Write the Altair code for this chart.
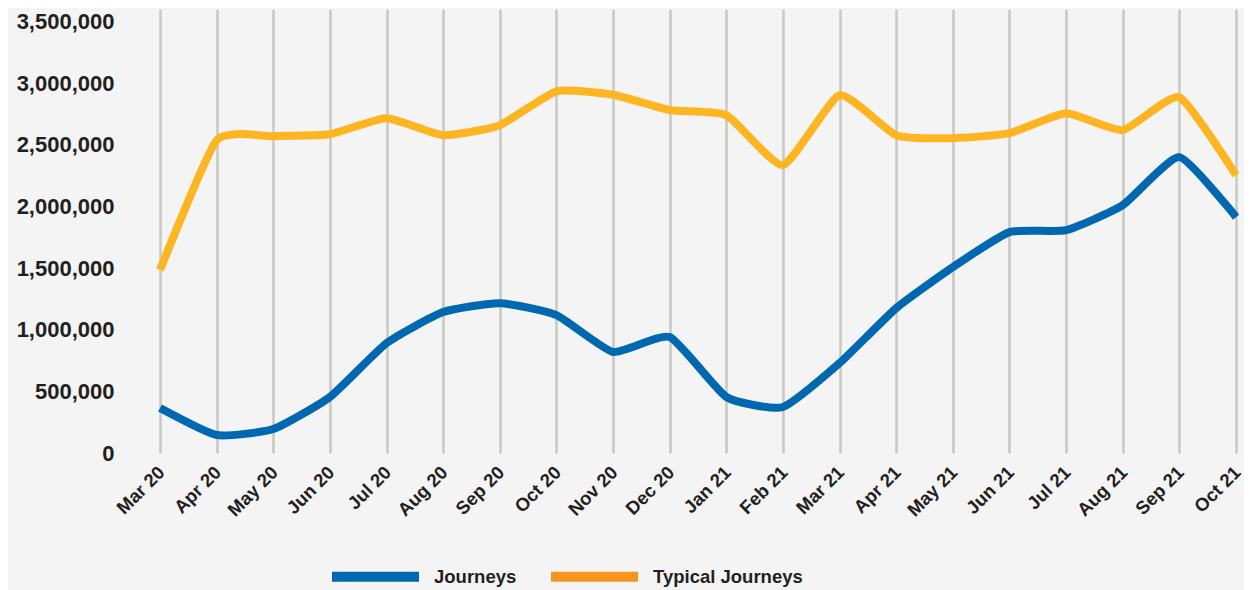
import altair as alt
import pandas as pd

months = ["Mar 20", "Apr 20", "May 20", "Jun 20", "Jul 20", "Aug 20", "Sep 20", "Oct 20",
          "Nov 20", "Dec 20", "Jan 21", "Feb 21", "Mar 21", "Apr 21", "May 21", "Jun 21",
          "Jul 21", "Aug 21", "Sep 21", "Oct 21"]
journeys = [365000, 146000, 194000, 454000, 891000, 1143000, 1215000, 1118000,
            819000, 940000, 454000, 373000, 729000, 1175000, 1507000, 1791000,
            1807000, 2010000, 2399000, 1912000]
typical = [1483000, 2536000, 2569000, 2585000, 2715000, 2577000, 2658000, 2933000,
           2905000, 2780000, 2739000, 2334000, 2901000, 2577000, 2553000, 2593000,
           2755000, 2618000, 2885000, 2253000]
series_names = ["Journeys", "Typical Journeys"]
line_colors = ["#0067B1", "#FDB522"]
legend_colors = ["#0067B1", "#F7941D"]
y_ticks = [0, 500000, 1000000, 1500000, 2000000, 2500000, 3000000, 3500000]

rows = []
for m, j, t in zip(months, journeys, typical):
    rows.append({"month": m, "series": series_names[0], "value": j})
    rows.append({"month": m, "series": series_names[1], "value": t})
df = pd.DataFrame(rows)

FONT = "Liberation Sans"
TXT = "#231F20"

x_enc = alt.X("month:O", sort=months, title=None,
              scale=alt.Scale(type="point", padding=0),
              axis=alt.Axis(labelAngle=-45, labelAlign="right", labelBaseline="middle",
                            labelPadding=16, labelOffset=1, labelFontSize=18.5,
                            labelFontWeight="bold",
                            labelColor=TXT, labelFont=FONT, domain=False, ticks=False,
                            grid=True, gridColor="#C8C8C4", gridWidth=2.5))
y_enc = alt.Y("value:Q", title=None,
              scale=alt.Scale(domain=[0, 3600000], nice=False),
              axis=alt.Axis(values=y_ticks, labelExpr="format(datum.value, ',')",
                            labelFontSize=22,
                            labelFontWeight="bold", labelColor=TXT, labelFont=FONT,
                            labelPadding=46, domain=False, ticks=False, grid=False))

lines = alt.Chart(df).mark_line(interpolate="cardinal", tension=0.5, strokeWidth=8).encode(
    x=x_enc, y=y_enc,
    stroke=alt.Stroke("series:N", legend=None,
                      scale=alt.Scale(domain=series_names, range=line_colors)),
)

legend_layer = alt.Chart(df).transform_filter("false").mark_line().encode(
    x=x_enc, y=y_enc,
    color=alt.Color("series:N", title=None,
                    scale=alt.Scale(domain=series_names, range=legend_colors),
                    legend=alt.Legend(orient="none", legendX=167, legendY=519,
                                      direction="horizontal", symbolType="stroke",
                                      symbolSize=7569, symbolStrokeWidth=10,
                                      labelFontSize=18.5, labelFontWeight="bold",
                                      labelColor=TXT, labelFont=FONT,
                                      labelOffset=10, columnPadding=14,
                                      labelLimit=400)),
)

chart = alt.layer(legend_layer, lines).properties(
    width=1076, height=444,
    autosize=alt.AutoSizeParams(type="none"),
    padding={"left": 152, "top": 1, "right": 8, "bottom": 137},
    background="#F4F4F4",
).configure_view(stroke=None)

chart.save("out.html", embed_options={"renderer": "svg", "actions": False})
